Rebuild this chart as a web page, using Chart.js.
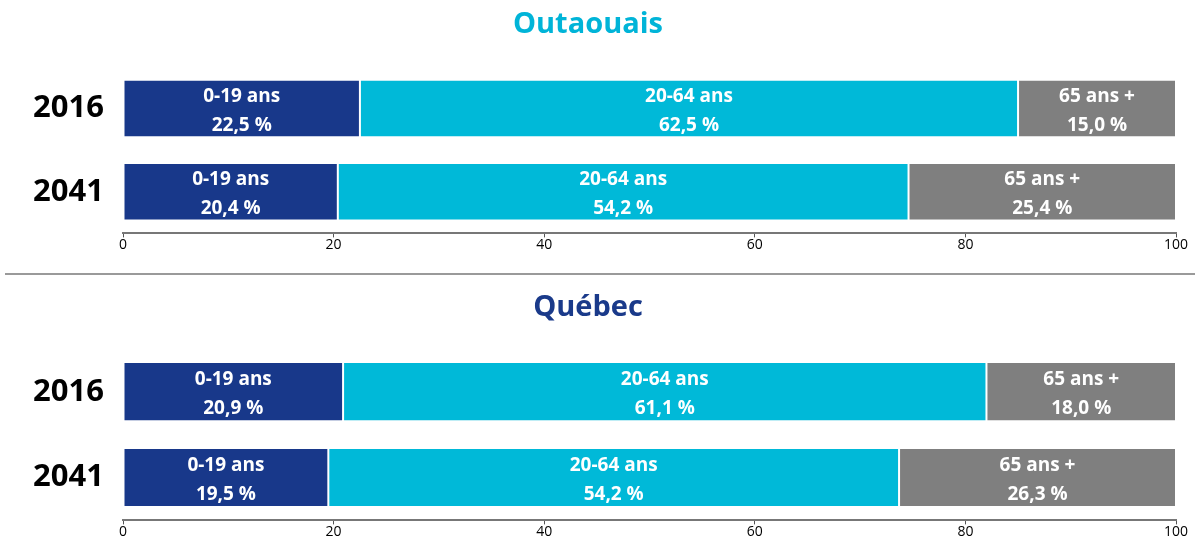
<!DOCTYPE html>
<html>
<head>
<meta charset="utf-8">
<script src="https://cdn.jsdelivr.net/npm/chart.js@4/dist/chart.umd.min.js"></script>
<style>
  body { margin: 0; background: #fff; width: 1195px; height: 536px; overflow: hidden; position: relative; }
  .box { position: absolute; left: 0; width: 1195px; }
  #divider { position: absolute; left: 5px; width: 1190px; top: 273px; height: 2px; background: #9a9a9a; }
</style>
</head>
<body>
<div class="box" style="top:0;height:263px"><canvas id="chartOut"></canvas></div>
<div id="divider"></div>
<div class="box" style="top:283px;height:267px"><canvas id="chartQc"></canvas></div>
<script>
// ----- DATA -----
var years = ['2016', '2041'];
var groups = ['0-19 ans', '20-64 ans', '65 ans +'];
var xTicks = [0, 20, 40, 60, 80, 100];

var outYoung = [22.5, 20.4];
var outAdult = [62.5, 54.2];
var outSenior = [15.0, 25.4];

var qcYoung = [20.9, 19.5];
var qcAdult = [61.1, 54.2];
var qcSenior = [18.0, 26.3];

var colors = ['#18388a', '#00b9d8', '#7f7f7f'];
var mainFont = "'Open Sans', sans-serif";

// draws the two-line label in the middle of each segment
var segLabels = {
  id: 'segLabels',
  afterDatasetsDraw: function(chart) {
    var ctx = chart.ctx;
    ctx.save();
    ctx.fillStyle = '#fff';
    ctx.textAlign = 'center';
    ctx.textBaseline = 'middle';
    ctx.font = 'bold 19px ' + mainFont;
    chart.data.datasets.forEach(function(ds, i) {
      chart.getDatasetMeta(i).data.forEach(function(bar, j) {
        var cx = (bar.x + bar.base) / 2;
        var v = ds.data[j].toFixed(1).replace('.', ',') + ' %';
        ctx.fillText(ds.label, cx, bar.y - 12);
        ctx.fillText(v, cx, bar.y + 17);
      });
    });
    ctx.restore();
  }
};

function makeChart(id, title, titleColor, young, adult, senior, titleBottom) {
  var series = [young, adult, senior];
  return new Chart(document.getElementById(id), {
    type: 'bar',
    data: {
      labels: years,
      datasets: series.map(function(d, i) {
        return {
          label: groups[i],
          data: d,
          backgroundColor: colors[i],
          borderColor: '#fff',
          borderWidth: 1,
          borderSkipped: false,
          barPercentage: 0.69,
          categoryPercentage: 1
        };
      })
    },
    options: {
      indexAxis: 'y',
      responsive: true,
      maintainAspectRatio: false,
      animation: false,
      layout: { padding: { left: 0, right: 19, top: 0, bottom: 0 } },
      plugins: {
        legend: { display: false },
        tooltip: { enabled: false },
        title: {
          display: true,
          text: title,
          color: titleColor,
          font: { size: 29, weight: 'bold', family: mainFont, lineHeight: 1.2 },
          padding: { top: 7, bottom: titleBottom }
        }
      },
      scales: {
        x: {
          stacked: true,
          min: 0,
          max: 100,
          afterBuildTicks: function(axis) {
            axis.ticks = xTicks.map(function(v) { return { value: v }; });
          },
          grid: { drawOnChartArea: false, drawTicks: true, tickLength: 4, color: '#555' },
          border: { display: true, color: '#777', width: 2 },
          ticks: { color: '#000', padding: -1, font: { size: 14, family: mainFont } }
        },
        y: {
          stacked: true,
          afterFit: function(axis) { axis.width = 123; },
          grid: { display: false },
          border: { display: false },
          ticks: { color: '#000', padding: 11, font: { size: 31, weight: 'bold', family: mainFont } }
        }
      }
    },
    plugins: [segLabels]
  });
}

makeChart('chartOut', 'Outaouais', '#00b4d8', outYoung, outAdult, outSenior, 25);
makeChart('chartQc', 'Québec', '#1a3a8a', qcYoung, qcAdult, qcSenior, 24);
</script>
</body>
</html>
